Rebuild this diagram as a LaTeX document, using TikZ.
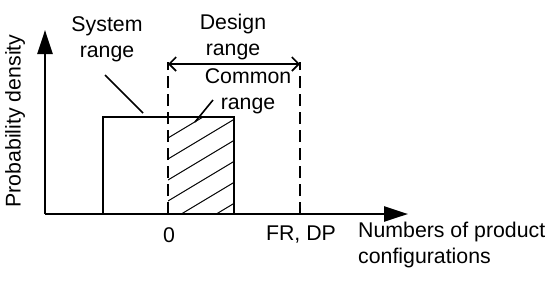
\documentclass[tikz,border=0pt]{standalone}
\usepackage{fontspec}
\setmainfont{Liberation Sans}
\usetikzlibrary{arrows.meta, positioning, calc}

\begin{document}
\begin{tikzpicture}[x=1pt, y=-1pt, >=Stealth, font=\fontsize{21.3}{26}\selectfont]
    \tikzset{txt/.style={align=center, inner sep=0pt},
        axis/.style={line width=2.6pt, -{Triangle[length=24pt, width=15pt]}},
        bound/.style={line width=2pt, dash pattern=on 12pt off 6pt},
        leader/.style={line width=1.6pt}}
    \useasboundingbox (0,0) rectangle (550,282);

    \coordinate (origin) at (45,214);
    \coordinate (ytip) at (45,30);
    \coordinate (xtip) at (408,214);
    \coordinate (zero) at (168,214);
    \coordinate (frdp) at (300,214);

    % hatched common range
    \begin{scope}
        \clip (168,117) rectangle (234,214);
        \foreach \y in {96,117,...,306}
            \draw[line width=1pt] (168,\y) -- (234,\y-39.6);
    \end{scope}
    \draw[line width=2pt] (103,214) rectangle (234,117);

    \draw[bound] (zero) -- (168,62);
    \draw[bound] (frdp) -- (300,62);
    \draw[line width=1.6pt, {Straight Barb[length=7pt, width=14pt]}-{Straight Barb[length=7pt, width=14pt]}] (168,64) -- (300,64);

    \draw[axis] (origin) -- (ytip);
    \draw[axis] (origin) -- (xtip);

    \node[txt] (sysrange) at (107,39) {System\\range};
    \node[txt] (desrange) at (233,37) {Design\\range};
    \node[txt] (comrange) at (248,91) {Common\\range};
    \draw[leader] (105,75) -- (143,113);
    \draw[leader] (195,122) -- (213,100);

    \node[txt] (zerolbl) at (169,235) {0};
    \node[txt] (frdplbl) at (301,235) {FR, DP};
    \node[txt, align=left, anchor=west] (xlbl) at (358,245) {Numbers of product\\configurations};
    \node[txt, rotate=90] (ylbl) at (15,121) {Probability density};
\end{tikzpicture}
\end{document}
